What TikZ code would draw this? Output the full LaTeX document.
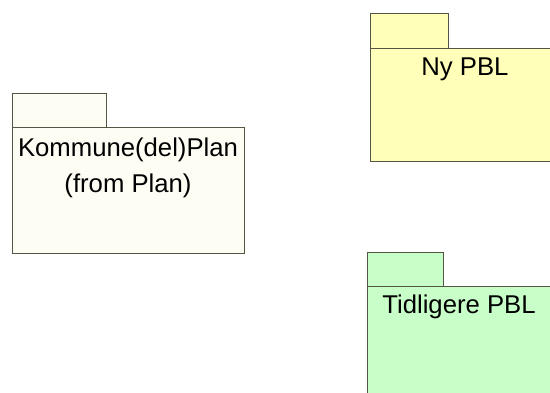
\documentclass[tikz,border=0pt]{standalone}
\usepackage{fontspec}
\setmainfont{Liberation Sans}
\definecolor{kommunefill}{RGB}{253,253,243}
\definecolor{nyfill}{RGB}{255,255,185}
\definecolor{tidfill}{RGB}{200,255,200}
\definecolor{pkgline}{RGB}{85,85,70}
\tikzset{
  pkg/.style={draw=pkgline, line width=1pt},
  pkglabel/.style={font=\fontsize{25.7}{36}\selectfont, anchor=base, inner sep=0pt}
}
\begin{document}
\begin{tikzpicture}[x=1pt, y=-1pt]
\useasboundingbox (0,0) rectangle (550,392);
\clip (0,0) rectangle (550,392);
\draw[pkg, fill=kommunefill] (12,93) rectangle (106,127);
\draw[pkg, fill=kommunefill] (12,127) rectangle (244,253);
\node[pkglabel] (kommune) at (128,156) {Kommune(del)Plan};
\node[pkglabel] (kommunefrom) at (128,192) {(from Plan)};

\draw[pkg, fill=nyfill] (370,13) rectangle (448,48);
\draw[pkg, fill=nyfill] (370,48) rectangle (560,161);
\node[pkglabel] (nypbl) at (465,75) {Ny PBL};

\draw[pkg, fill=tidfill] (367,252) rectangle (443,286);
\draw[pkg, fill=tidfill] (367,286) rectangle (560,400);
\node[pkglabel] (tidligere) at (459,313) {Tidligere PBL};
\end{tikzpicture}
\end{document}
